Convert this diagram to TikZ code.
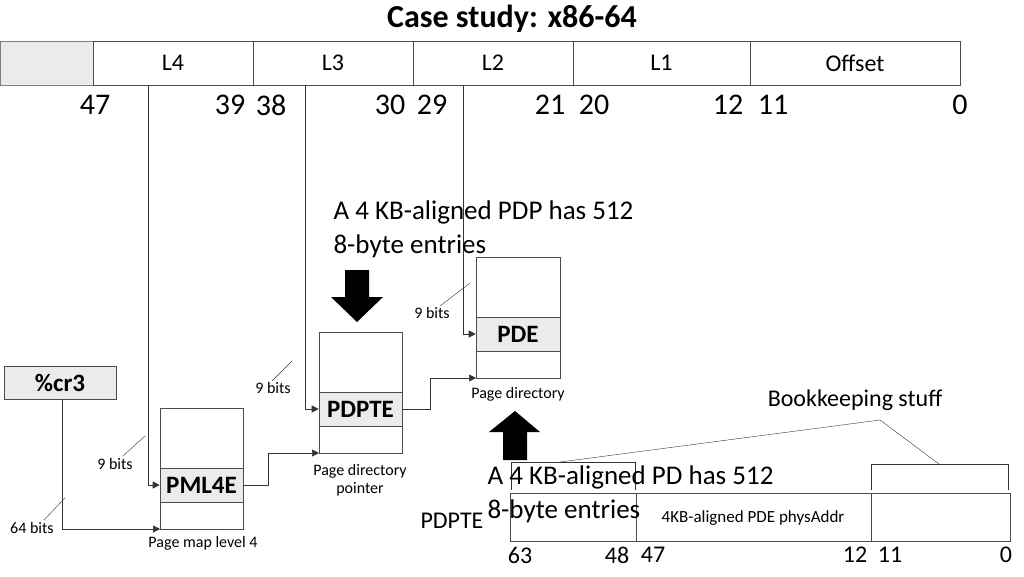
\documentclass[tikz,border=0pt]{standalone}
\usepackage{fontspec}
\setmainfont{Carlito}
\usetikzlibrary{arrows.meta}
\begin{document}
\begin{tikzpicture}[x=1pt,y=-1pt,
  box/.style={draw=black!70,line width=0.6pt},
  gbox/.style={draw=black!70,fill=black!8,line width=0.6pt},
  con/.style={draw=black!80,line width=0.6pt,-{Triangle[length=7pt,width=7pt]}},
  lead/.style={draw=black!80,line width=0.4pt},
  sm/.style={font=\fontsize{16}{18}\selectfont},
  big/.style={font=\fontsize{30}{32}\selectfont},
  mid/.style={font=\fontsize{24}{26}\selectfont},
  lt/.style={font=\fontsize{30}{36}\selectfont,align=left,anchor=north west}]
\useasboundingbox (0,0) rectangle (1024,576);
\node[font=\bfseries\fontsize{32}{34}\selectfont] (title) at (512,19) {Case study: x86-64};
% top bar
\draw[gbox,draw=black!50] (0,41) rectangle (93,85);
\foreach \a/\b/\t in {93/253/L4,253/413/L3,413/573/L2,573/750/L1,750/960/Offset}{
  \draw[box] (\a,41) rectangle (\b,85);
  \node[mid] at ({(\a+\b)/2},63) {\t};}
\foreach \x/\t in {95/47,230/39,271/38,390/30,432/29,550/21,594/20,728/12,773/11,960/0}
  \node[big] at (\x,105) {\t};
% tables
\draw[box] (160,408) rectangle (243,529);
\node[gbox,minimum width=83pt,minimum height=34pt,inner sep=0pt,font=\bfseries\fontsize{25}{26}\selectfont] (pml) at (201.5,485) {PML4E};
\draw[box] (319,332) rectangle (402,453);
\node[gbox,minimum width=83pt,minimum height=34pt,inner sep=0pt,font=\bfseries\fontsize{25}{26}\selectfont] (pdpte) at (360.5,409) {PDPTE};
\draw[box] (476,257) rectangle (560,378);
\node[gbox,minimum width=84pt,minimum height=34pt,inner sep=0pt,font=\bfseries\fontsize{25}{26}\selectfont] (pde) at (518,334) {PDE};
\node[gbox,minimum width=112pt,minimum height=33pt,inner sep=0pt,font=\bfseries\fontsize{25}{26}\selectfont] (cr3) at (60,382.5) {\%cr3};
\coordinate (pmlin) at (160,529); \coordinate (pdpin) at (319,453); \coordinate (pdin) at (476,378);
% connectors
\draw[con] (148,85) -- (148,485) -- (pml.west);
\draw[con] (305,85) -- (305,409) -- (pdpte.west);
\draw[con] (463,85) -- (463,334) -- (pde.west);
\draw[con] (cr3.south -| 62,0) -- (62,529) -- (pmlin);
\draw[con] (pml.east) -- (268,485) -- (268,453) -- (pdpin);
\draw[con] (pdpte.east) -- (430,409) -- (430,378) -- (pdin);
% labels
\node[sm] at (203,543) {Page map level 4};
\node[sm,align=center] at (360,480) {Page directory\\pointer};
\node[sm] at (518,394) {Page directory};
\node[sm] (b1) at (115,464) {9 bits}; \draw[lead] (123,456) -- (145,436);
\node[sm] (b2) at (273,388) {9 bits}; \draw[lead] (272,381) -- (292,361);
\node[sm] (b3) at (432,313) {9 bits}; \draw[lead] (440,306) -- (470,283);
\node[sm] (b4) at (32,528) {64 bits}; \draw[lead] (44,520) -- (65,498);
% big arrows
\fill (345,270) -- (369,270) -- (369,297) -- (383,297) -- (357,322) -- (331,297) -- (345,297) -- cycle;
\fill (503,460) -- (527,460) -- (527,432) -- (540,432) -- (515,411) -- (489,432) -- (503,432) -- cycle;
\node[lt,font=\fontsize{27}{34}\selectfont] at (330,197) {A 4 KB-aligned PDP has 512\\8-byte entries};
% bottom entry
\draw[box] (510,493) rectangle (1010,541);
\draw[box] (636,493) -- (636,541); \draw[box] (871,493) -- (871,541);
\node[font=\fontsize{17}{18}\selectfont] at (753,518) {4KB-aligned PDE physAddr};
\node[mid] at (452,521) {PDPTE};
\draw[lead] (511,490) -- (511,462) -- (635,462) -- (635,490);
\draw[lead] (871,490) -- (871,464) -- (1008,464) -- (1008,490);
\node[mid] (bk) at (855,400) {Bookkeeping stuff};
\draw[lead] (560,462) -- (880,420) -- (939,464);
\node[lt,font=\fontsize{27}{34}\selectfont] at (484,462) {A 4 KB-aligned PD has 512\\8-byte entries};
\foreach \x/\t in {520/63,617/48,653/47,855/12,890/11,1006/0}
  \node[mid] at (\x,555) {\t};
\end{tikzpicture}
\end{document}
